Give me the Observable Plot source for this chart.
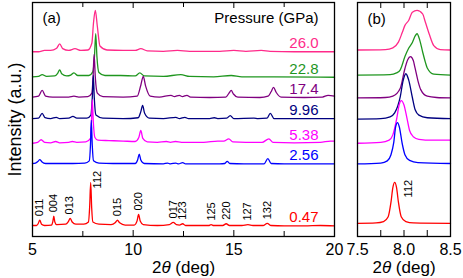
<!DOCTYPE html>
<html><head><meta charset="utf-8">
<script src="https://cdn.jsdelivr.net/npm/d3@7"></script>
<script src="https://cdn.jsdelivr.net/npm/@observablehq/plot@0.6"></script>
<style>
body{margin:0;background:#fff;}
#wrap{position:relative;width:463px;height:278px;overflow:hidden;}
#wrap svg{position:absolute;top:0;}
</style></head><body><div id="wrap"></div>
<script>
// ---- data ----
const pressures = ["0.47","2.56","5.38","9.96","17.4","22.8","26.0"];
const offsets = [23,164,211,266,314,361,418];

// panel (a): 2theta (deg), intensity (a.u., 112 peak ~ 100)
const scanA_047 = [[5.0,2],[5.2,2],[5.28,6],[5.36,14],[5.45,5],[5.6,2],[5.95,3],[6.01,11],[6.06,23],[6.11,10],[6.2,4],[6.65,5],[6.78,11],[6.87,18],[6.97,10],[7.15,5],[7.55,5],[7.78,10],[7.84,45],[7.89,100],[7.94,42],[8.0,10],[8.3,5],[8.9,4],[9.12,9],[9.22,14],[9.33,8],[9.6,3],[10.05,3],[10.19,12],[10.27,27],[10.35,12],[10.5,4],[11.2,2],[11.8,4],[11.99,9],[12.15,4],[12.3,3],[12.46,6],[12.6,2],[13.4,2],[13.75,2],[13.87,4],[14.0,2],[14.45,2],[14.62,6],[14.78,2],[15.4,2],[15.7,4],[15.95,2],[16.45,2],[16.66,7],[16.85,2],[17.5,1],[18.5,1],[19.3,2],[20,1]];
const scanA_256 = [[5,2],[5.15,3],[5.28,7],[5.36,11],[5.46,6],[5.65,2],[6.2,2],[7.0,2],[7.6,3],[7.82,8],[7.88,45],[7.92,100],[7.97,42],[8.03,8],[8.3,3],[9.0,2],[10.1,2],[10.22,10],[10.3,23],[10.38,10],[10.55,2],[11.5,1],[11.71,3],[11.85,1],[12.12,3],[12.25,1],[12.46,4],[12.6,1],[14.3,1],[14.55,2],[14.67,7],[14.8,2],[15.5,1],[16.5,1],[16.69,13],[16.85,2],[17.5,1],[20,1]];
const scanA_538 = [[5,1],[5.25,3],[5.43,9],[5.6,3],[5.9,2],[6.15,5],[6.35,2],[6.8,3],[6.98,5],[7.2,3],[7.65,4],[7.88,12],[7.93,50],[7.97,100],[8.02,50],[8.1,14],[8.25,8],[8.8,7],[9.5,6],[10.1,5],[10.28,14],[10.38,30],[10.48,12],[10.7,4],[11.2,3],[11.65,5],[11.85,3],[12.1,5],[12.4,3],[13.5,3],[14.2,6],[14.5,6],[14.75,11],[14.95,4],[15.6,3],[16.4,3],[16.74,11],[16.95,3],[18,2],[19.3,3],[19.8,6],[20,6]];
const scanA_996 = [[5,2],[5.3,3],[5.48,14],[5.62,4],[5.9,2],[6.18,5],[6.35,2],[6.8,3],[7.01,7],[7.2,3],[7.7,3],[7.9,10],[7.97,50],[8.02,100],[8.07,48],[8.15,10],[8.5,3],[9.5,2],[10.25,4],[10.38,18],[10.47,32],[10.57,14],[10.8,3],[11.5,2],[12.12,5],[12.3,2],[12.57,5],[12.75,2],[13.8,2],[14.03,4],[14.2,2],[14.65,3],[14.82,9],[15.0,2],[16.0,3],[16.2,2],[16.65,3],[16.81,14],[17.0,2],[18,2],[20,2]];
const scanA_174 = [[5,3],[5.3,5],[5.48,18],[5.65,5],[6.0,3],[6.8,3],[7.06,5],[7.3,3],[7.75,4],[7.95,12],[8.01,50],[8.06,100],[8.12,48],[8.22,12],[8.5,4],[9.5,3],[10.2,5],[10.38,30],[10.5,50],[10.62,28],[10.85,5],[11.3,3],[11.88,7],[12.05,4],[12.29,7],[12.45,4],[12.67,7],[12.85,3],[13.8,2],[14.6,3],[14.76,12],[14.87,18],[14.98,10],[15.2,3],[16.3,2],[16.7,5],[16.85,15],[16.97,25],[17.1,14],[17.35,3],[18.5,2],[19.4,3],[19.68,7],[20,5]];
const scanA_228 = [[5,2],[5.3,3],[5.48,7],[5.7,3],[6.1,4],[6.25,10],[6.35,18],[6.45,9],[6.7,4],[6.9,6],[7.06,11],[7.25,5],[7.8,5],[8.0,14],[8.08,50],[8.14,100],[8.2,48],[8.3,12],[8.6,5],[9.38,5],[10.1,4],[10.33,11],[10.55,4],[11.5,3],[12.37,7],[12.8,3],[14.0,2],[14.87,5],[15.4,2],[17,2],[20,1]];
const scanA_260 = [[5,2],[5.3,2],[5.6,5],[5.9,5],[6.2,10],[6.35,20],[6.5,9],[6.8,5],[7.11,9],[7.4,5],[7.75,6],[7.95,22],[8.03,68],[8.12,96],[8.22,60],[8.35,15],[8.7,6],[9.5,5],[10.1,5],[10.38,9],[10.7,4],[11.5,3],[12.2,5],[12.8,3],[14.3,3],[15.0,5],[15.6,3],[16.36,5],[16.8,3],[18,2],[20,2]];

// panel (b): zoom on the 112 reflection
const scanB_047 = [[7.5,7],[7.7,8],[7.78,11],[7.83,22],[7.86,55],[7.88,88],[7.90,100],[7.92,88],[7.94,55],[7.97,22],[8.02,11],[8.1,8],[8.5,7]];
const scanB_256 = [[7.5,1],[7.75,3],[7.82,8],[7.86,22],[7.89,50],[7.91,85],[7.93,95],[7.95,85],[7.98,48],[8.01,22],[8.06,9],[8.15,4],[8.5,2]];
const scanB_538 = [[7.5,1],[7.75,3],[7.84,8],[7.88,20],[7.92,55],[7.95,90],[7.97,98],[8.0,88],[8.03,60],[8.06,30],[8.1,16],[8.16,10],[8.3,8],[8.5,8]];
const scanB_996 = [[7.5,1],[7.75,2],[7.85,6],[7.9,15],[7.96,52],[7.99,88],[8.02,104],[8.05,90],[8.09,50],[8.12,22],[8.16,10],[8.25,4],[8.5,2]];
const scanB_174 = [[7.5,1],[7.8,2],[7.88,5],[7.96,23],[8.01,68],[8.04,88],[8.07,95],[8.1,86],[8.12,68],[8.15,40],[8.18,20],[8.25,5],[8.35,2],[8.5,1]];
const scanB_228 = [[7.5,6],[7.85,7],[7.92,11],[7.96,18],[8.01,48],[8.05,67],[8.09,80],[8.12,95],[8.14,100],[8.17,85],[8.2,59],[8.23,35],[8.25,22],[8.32,8],[8.5,6]];
const scanB_260 = [[7.5,6],[7.8,7],[7.88,11],[7.94,24],[7.98,45],[8.01,62],[8.05,73],[8.09,92],[8.14,96],[8.2,88],[8.23,69],[8.27,43],[8.32,16],[8.39,7],[8.5,6]];

const hklLabels = ["011","004","013","112","015","020","017","123","125","220","127","132"];
const hklAngles = [5.36,6.06,6.86,7.89,9.22,10.27,11.99,12.46,13.87,14.62,15.70,16.66];

const ticksA = [5,10,15,20], minorA = [7.5,12.5,17.5];
const ticksB = [7.5,8.0,8.5], minorB = [7.75,8.0,8.25];

// ---- drawing ----
const scansA = [scanA_047,scanA_256,scanA_538,scanA_996,scanA_174,scanA_228,scanA_260];
const scansB = [scanB_047,scanB_256,scanB_538,scanB_996,scanB_174,scanB_228,scanB_260];
const colors = ["#ff0000","#0000ff","#ff00ff","#000080","#800080","#1f961f","#ff2a8a"];
const FONT = "'Liberation Sans', Arial, Helvetica, sans-serif";

function rows(scans){
  const out = [];
  for (let i = scans.length - 1; i >= 0; i--)
    for (const [x, y] of scans[i]) out.push({p: pressures[i], x, y: y + offsets[i]});
  return out;
}
function apex(scan, a, w){
  let m = -Infinity;
  for (const [x, y] of scan) if (Math.abs(x - a) <= w) m = Math.max(m, y);
  return m;
}
const H = 278, MT = 2, MB = 42, FH = H - MT - MB;
const yDomain = [0, 532];
const color = {domain: pressures, range: colors};

const lblA = hklLabels.map((t, k) => ({t, x: hklAngles[k], y: apex(scanA_047, hklAngles[k], 0.12) + offsets[0]}));
const lblMain = lblA.filter(d => d.t !== "112");
const lbl112 = lblA.filter(d => d.t === "112");

const pLabels = pressures.map((p, i) => ({p, off: offsets[i]}));

const plotA = Plot.plot({
  width: 340, height: H, marginLeft: 32, marginRight: 6, marginTop: MT, marginBottom: MB,
  style: {fontFamily: FONT, fontSize: "16px", background: "transparent", overflow: "visible"},
  x: {domain: [5, 20]},
  y: {domain: yDomain, axis: null},
  color,
  marks: [
    Plot.line(rows(scansA), {x: "x", y: "y", z: "p", stroke: "p", strokeWidth: 1.3, curve: "monotone-x"}),
    Plot.frame({stroke: "black", strokeWidth: 1.3}),
    Plot.tickX(ticksA, {insetBottom: FH - 6, stroke: "black"}),
    Plot.tickX(ticksA, {insetTop: FH - 6, stroke: "black"}),
    Plot.tickX(minorA, {insetBottom: FH - 5, stroke: "black"}),
    Plot.tickX(minorA, {insetTop: FH - 5, stroke: "black"}),
    Plot.axisX({ticks: ticksA, tickSize: 0, tickPadding: 7, fontSize: 16, label: null}),
    Plot.text(lblMain, {x: "x", y: "y", text: "t", rotate: -90, textAnchor: "start", lineAnchor: "middle", dy: -4, fontSize: 11}),
    Plot.text(lbl112, {x: "x", y: "y", text: "t", rotate: -90, textAnchor: "start", lineAnchor: "middle", dx: 7, dy: 6, fontSize: 11}),
    Plot.text(pLabels, {y: "off", text: "p", fill: "p", frameAnchor: "right", textAnchor: "end", lineAnchor: "middle", dx: -16, dy: -9, fontSize: 15}),
    Plot.text(["Pressure (GPa)"], {frameAnchor: "top-right", textAnchor: "end", lineAnchor: "middle", dx: -16, dy: 16, fontSize: 15}),
    Plot.text(["(a)"], {frameAnchor: "top-left", textAnchor: "start", lineAnchor: "middle", dx: 10, dy: 16, fontSize: 15}),
    Plot.text(["Intensity (a.u.)"], {frameAnchor: "left", rotate: -90, textAnchor: "middle", lineAnchor: "middle", dx: -17, fontSize: 18}),
    Plot.text(["2θ (deg)"], {frameAnchor: "bottom", textAnchor: "middle", lineAnchor: "middle", dy: 31, fontSize: 17})
  ]
});

const lblB = [{t: "112", x: 7.90, y: apex(scanB_047, 7.90, 0.05) + offsets[0]}];

const plotB = Plot.plot({
  width: 123, height: H, marginLeft: 17, marginRight: 13, marginTop: MT, marginBottom: MB,
  style: {fontFamily: FONT, fontSize: "16px", background: "transparent", overflow: "visible"},
  x: {domain: [7.5, 8.5]},
  y: {domain: yDomain, axis: null},
  color,
  marks: [
    Plot.line(rows(scansB), {x: "x", y: "y", z: "p", stroke: "p", strokeWidth: 1.3, curve: "monotone-x"}),
    Plot.frame({stroke: "black", strokeWidth: 1.3}),
    Plot.tickX(minorB, {insetBottom: FH - 6, stroke: "black"}),
    Plot.tickX(minorB, {insetTop: FH - 6, stroke: "black"}),
    Plot.axisX({ticks: ticksB, tickFormat: d3.format(".1f"), tickSize: 0, tickPadding: 7, fontSize: 16, label: null}),
    Plot.text(lblB, {x: "x", y: "y", text: "t", rotate: -90, textAnchor: "start", lineAnchor: "middle", dx: 14, dy: 15, fontSize: 11}),
    Plot.text(["(b)"], {frameAnchor: "top-left", textAnchor: "start", lineAnchor: "middle", dx: 10, dy: 17, fontSize: 15}),
    Plot.text(["2θ (deg)"], {frameAnchor: "bottom", textAnchor: "middle", lineAnchor: "middle", dy: 31, fontSize: 17})
  ]
});

const wrap = document.getElementById("wrap");
plotA.style.left = "0px";
plotB.style.left = "340px";
wrap.appendChild(plotA);
wrap.appendChild(plotB);
for (const svg of [plotA, plotB]) {
  svg.querySelectorAll("text").forEach(t => {
    if (t.textContent === "2θ (deg)") t.innerHTML = '2<tspan font-style="italic">θ</tspan> (deg)';
  });
}
</script></body></html>
